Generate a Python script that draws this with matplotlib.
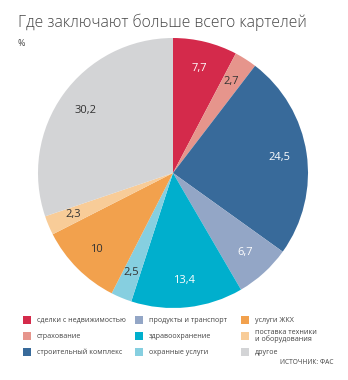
import matplotlib
matplotlib.use("Agg")
import matplotlib.pyplot as plt
from matplotlib.patches import Rectangle
import numpy as np

categories = ["сделки с недвижимостью", "страхование", "строительный комплекс",
              "продукты и транспорт", "здравоохранение", "охранные услуги",
              "услуги ЖКХ", "поставка техники\nи оборудования", "другое"]
values = [7.7, 2.7, 24.5, 6.7, 13.4, 2.5, 10, 2.3, 30.2]
value_labels = ["7,7", "2,7", "24,5", "6,7", "13,4", "2,5", "10", "2,3", "30,2"]
colors = ["#d42a4b", "#e6958c", "#386a9a", "#93a6c6", "#00afcd",
          "#86cfe0", "#f2a14d", "#f8cc98", "#d3d4d6"]
label_colors = ["white", "#333333", "white", "white", "white",
                "#333333", "#333333", "#333333", "#333333"]

plt.rcParams['font.family'] = ['Open Sans', 'DejaVu Sans']

W, H = 348, 380
fig = plt.figure(figsize=(W/100, H/100), dpi=100)
fig.patch.set_facecolor("white")

cx, cy, r = 173, 173, 135
ax = fig.add_axes([(cx - r)/W, (H - cy - r)/H, 2*r/W, 2*r/H])
wedges, texts = ax.pie(values, colors=colors, startangle=90, counterclock=False,
                       radius=1, wedgeprops=dict(linewidth=0))
for w, lab, col in zip(wedges, value_labels, label_colors):
    ang = np.deg2rad((w.theta1 + w.theta2) / 2)
    d = 0.8
    ax.text(d*np.cos(ang), d*np.sin(ang), lab, ha="center", va="center",
            fontsize=8, color=col)
ax.set_xlim(-1, 1)
ax.set_ylim(-1, 1)
ax.set_aspect("equal")
ax.axis("off")

fig.text(18/W, 1 - 22/H, "Где заключают больше всего картелей", fontsize=11.3,
         fontweight="light", color="#444444", ha="left", va="center")
fig.text(18/W, 1 - 43/H, "%", fontsize=6.5, color="#444444", ha="left", va="center")

col_x = [27, 139, 245]
row_y = [320, 336, 352]
sq = 8
for i, (cat, c) in enumerate(zip(categories, colors)):
    col, row = i // 3, i % 3
    x, y = col_x[col], row_y[row]
    fig.patches.append(Rectangle(((x - sq/2)/W, 1 - (y + sq/2)/H), sq/W, sq/H,
                                 transform=fig.transFigure, facecolor=c,
                                 edgecolor="none"))
    fig.text((x + 10)/W, 1 - y/H, cat, fontsize=5.1, color="#444444",
             ha="left", va="center", linespacing=0.95)

fig.text(333/W, 1 - 362/H, "ИСТОЧНИК: ФАС", fontsize=4.8, color="#444444",
         ha="right", va="center")

fig.savefig("out.png", dpi=100)
